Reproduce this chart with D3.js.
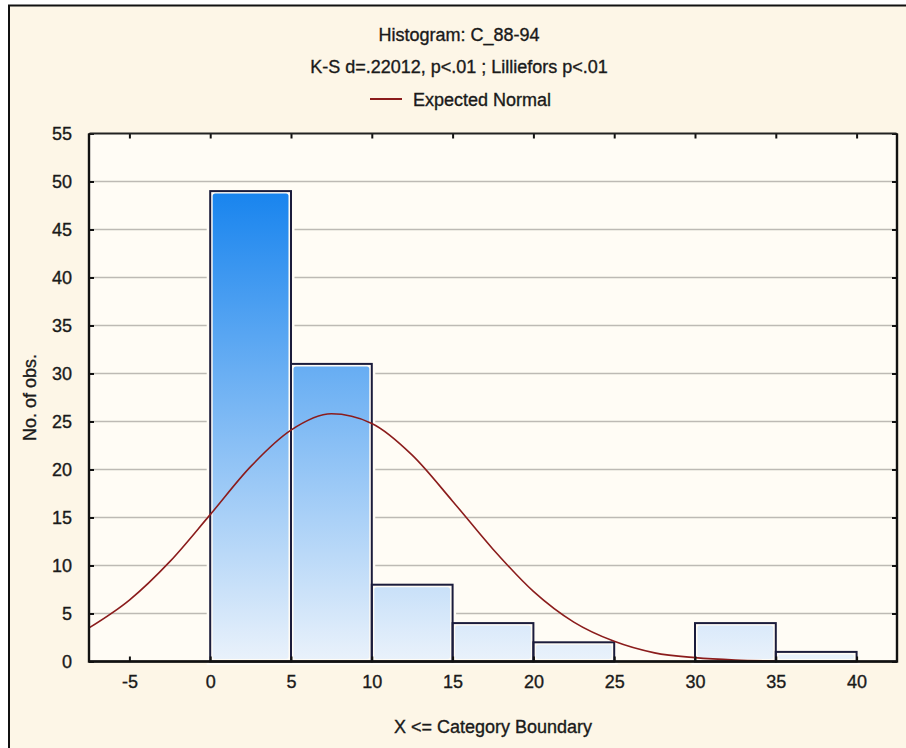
<!DOCTYPE html>
<html lang="en">
<head>
<meta charset="utf-8">
<title>Histogram: C_88-94</title>
<script src="https://cdn.jsdelivr.net/npm/d3@7"></script>
<style>
  body { margin: 0; background: #ffffff; }
  svg text { font-family: "Liberation Sans", Arial, sans-serif; fill: #1a1a1a; stroke: #1a1a1a; stroke-width: 0.35px; }
</style>
</head>
<body>
<script>
// histogram bins (lower bound, width 5) and counts
var binStarts = [0, 5, 10, 15, 20, 25, 30, 35];
var binWidth = 5;
var counts = [49, 31, 8, 4, 2, 0, 4, 1];

// expected normal curve
var curveX = [-7.5, -5, -2.5, 0, 2.5, 5, 7.5, 10, 12.5, 15, 17.5, 20, 22.5, 25, 27.5, 30, 32.5, 35];
var curveY = [3.5, 6.4, 10.4, 15.3, 20.3, 24.1, 25.8, 24.8, 21.5, 16.7, 11.7, 7.3, 4.1, 2.1, 0.9, 0.4, 0.15, 0.05];

var xTicks = [-5, 0, 5, 10, 15, 20, 25, 30, 35, 40];
var yTicks = [0, 5, 10, 15, 20, 25, 30, 35, 40, 45, 50, 55];

var titleLines = ["Histogram: C_88-94", "K-S d=.22012, p<.01 ; Lilliefors p<.01"];
var legendLabel = "Expected Normal";

var W = 906, H = 748;
var plot = { left: 89, top: 133.5, right: 897, bottom: 661.5 };

var svg = d3.select("body").append("svg")
    .attr("width", W)
    .attr("height", H);

// outer panel
svg.append("rect")
   .attr("x", 9).attr("y", 6)
   .attr("width", W - 9).attr("height", H - 6)
   .attr("fill", "#fdf6e7");
svg.append("path")
   .attr("d", "M9," + H + "V5.5H" + W)
   .attr("fill", "none")
   .attr("stroke", "#111")
   .attr("stroke-width", 2);

var x = d3.scaleLinear().domain([-7.5, 42.5]).range([plot.left, plot.right]);
var y = d3.scaleLinear().domain([0, 55]).range([plot.bottom, plot.top]);

// plot background
svg.append("rect")
   .attr("x", plot.left).attr("y", plot.top)
   .attr("width", plot.right - plot.left)
   .attr("height", plot.bottom - plot.top)
   .attr("fill", "#fffcf5");

// gridlines
svg.append("g")
   .selectAll("line")
   .data(yTicks.filter(function(d) { return d > 0 && d < 55; }))
   .enter()
   .append("line")
   .attr("x1", plot.left).attr("x2", plot.right)
   .attr("y1", function(d) { return y(d); })
   .attr("y2", function(d) { return y(d); })
   .attr("stroke", "#bdbab4")
   .attr("stroke-width", 1.6);

// gradient across the plot height
var grad = svg.append("defs").append("linearGradient")
    .attr("id", "barGrad")
    .attr("gradientUnits", "userSpaceOnUse")
    .attr("x1", 0).attr("x2", 0)
    .attr("y1", y(49)).attr("y2", y(0));
grad.append("stop").attr("offset", 0).attr("stop-color", "#1884ee");
grad.append("stop").attr("offset", 1).attr("stop-color", "#eaf2fb");

var bins = binStarts.map(function(d, i) { return { x0: d, x1: d + binWidth, n: counts[i] }; })
                    .filter(function(d) { return d.n > 0; });

// halo that cuts the gridlines near the bars
svg.append("g")
   .selectAll("rect")
   .data(bins)
   .enter()
   .append("rect")
   .attr("x", function(d) { return x(d.x0); })
   .attr("y", function(d) { return y(d.n); })
   .attr("width", function(d) { return x(d.x1) - x(d.x0); })
   .attr("height", function(d) { return y(0) - y(d.n); })
   .attr("fill", "#fffcf5")
   .attr("stroke", "#fffcf5")
   .attr("stroke-width", 7);

// bar fills, inset inside the outline
svg.append("g")
   .selectAll("rect")
   .data(bins)
   .enter()
   .append("rect")
   .attr("x", function(d) { return x(d.x0) + 2.5; })
   .attr("y", function(d) { return y(d.n) + 2.5; })
   .attr("width", function(d) { return x(d.x1) - x(d.x0) - 5; })
   .attr("height", function(d) { return Math.max(0, y(0) - y(d.n) - 5); })
   .attr("rx", 2.5)
   .attr("fill", "url(#barGrad)");

// bar outlines
svg.append("g")
   .selectAll("rect")
   .data(bins)
   .enter()
   .append("rect")
   .attr("x", function(d) { return x(d.x0); })
   .attr("y", function(d) { return y(d.n); })
   .attr("width", function(d) { return x(d.x1) - x(d.x0); })
   .attr("height", function(d) { return y(0) - y(d.n); })
   .attr("fill", "none")
   .attr("stroke", "#1b1c3c")
   .attr("stroke-width", 2);

// expected normal curve
var line = d3.line()
    .x(function(d, i) { return x(curveX[i]); })
    .y(function(d) { return y(d); })
    .curve(d3.curveMonotoneX);

svg.append("path")
   .datum(curveY)
   .attr("d", line)
   .attr("fill", "none")
   .attr("stroke", "#8b1c1c")
   .attr("stroke-width", 1.6);

// axes: ticks pointing inward on all four sides
var tickFmt = function(d) { return d; };
var axB = svg.append("g").attr("transform", "translate(0," + plot.bottom + ")")
    .call(d3.axisBottom(x).tickValues(xTicks).tickSizeInner(-5).tickSizeOuter(0).tickPadding(14).tickFormat(tickFmt));
var axT = svg.append("g").attr("transform", "translate(0," + plot.top + ")")
    .call(d3.axisTop(x).tickValues(xTicks).tickSizeInner(-5).tickSizeOuter(0).tickFormat(""));
var axL = svg.append("g").attr("transform", "translate(" + plot.left + ",0)")
    .call(d3.axisLeft(y).tickValues(yTicks).tickSizeInner(-5).tickSizeOuter(0).tickPadding(17).tickFormat(tickFmt));
var axR = svg.append("g").attr("transform", "translate(" + plot.right + ",0)")
    .call(d3.axisRight(y).tickValues(yTicks).tickSizeInner(-5).tickSizeOuter(0).tickFormat(""));

[axB, axT, axL, axR].forEach(function(g) {
    g.select(".domain").remove();
    g.selectAll(".tick line").attr("stroke", "#111").attr("stroke-width", 2);
    g.selectAll(".tick text")
     .attr("font-size", "18px")
     .attr("font-family", "Liberation Sans, Arial, sans-serif")
     .attr("fill", "#1a1a1a");
});

// plot frame
svg.append("rect")
   .attr("x", plot.left).attr("y", plot.top)
   .attr("width", plot.right - plot.left)
   .attr("height", plot.bottom - plot.top)
   .attr("rx", 1.5)
   .attr("fill", "none")
   .attr("stroke", "#222")
   .attr("stroke-width", 2);
svg.append("path")
   .attr("d", "M" + plot.left + "," + plot.top + "V" + plot.bottom + "H" + plot.right + "V" + plot.top)
   .attr("fill", "none")
   .attr("stroke", "#111")
   .attr("stroke-width", 2.4);

// titles
svg.selectAll(".title")
   .data(titleLines)
   .enter()
   .append("text")
   .attr("class", "title")
   .attr("x", 459)
   .attr("y", function(d, i) { return 41 + i * 32; })
   .attr("text-anchor", "middle")
   .attr("font-size", "18px")
   .text(function(d) { return d; });

// legend
svg.append("line")
   .attr("x1", 370).attr("x2", 402)
   .attr("y1", 99).attr("y2", 99)
   .attr("stroke", "#8b1c1c")
   .attr("stroke-width", 2);
svg.append("text")
   .attr("x", 413).attr("y", 106)
   .attr("font-size", "18px")
   .text(legendLabel);

// axis titles
svg.append("text")
   .attr("x", (plot.left + plot.right) / 2)
   .attr("y", 733)
   .attr("text-anchor", "middle")
   .attr("font-size", "18px")
   .text("X <= Category Boundary");

svg.append("text")
   .attr("transform", "translate(36," + ((plot.top + plot.bottom) / 2) + ") rotate(-90)")
   .attr("text-anchor", "middle")
   .attr("font-size", "18px")
   .text("No. of obs.");
</script>
</body>
</html>
